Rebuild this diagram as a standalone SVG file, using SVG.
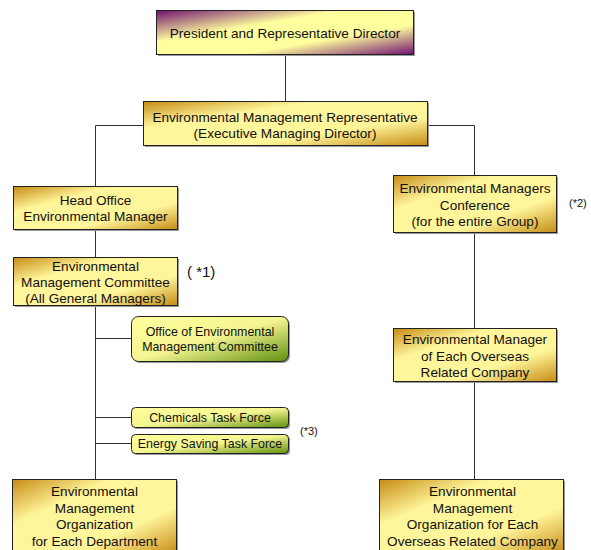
<svg xmlns="http://www.w3.org/2000/svg" width="591" height="550" viewBox="0 0 591 550">
<defs>
<linearGradient id="gold" x1="0" y1="0" x2="1" y2="1">
<stop offset="0" stop-color="#C58B14"/>
<stop offset="0.3" stop-color="#FFF59A"/>
<stop offset="0.68" stop-color="#FFF59A"/>
<stop offset="1" stop-color="#C58B14"/>
</linearGradient>
<linearGradient id="purple" x1="0" y1="0" x2="1" y2="1">
<stop offset="0" stop-color="#701070"/>
<stop offset="0.36" stop-color="#FFFF9E"/>
<stop offset="0.66" stop-color="#FFFF9E"/>
<stop offset="1" stop-color="#701070"/>
</linearGradient>
<linearGradient id="green" x1="0" y1="0" x2="1" y2="1">
<stop offset="0" stop-color="#FFFF9E"/>
<stop offset="0.5" stop-color="#F4F590"/>
<stop offset="1" stop-color="#5E8F0E"/>
</linearGradient>
</defs>
<style>
.box{stroke:#222;stroke-width:1}
.sh{fill:#999}
.t{font-family:"Liberation Sans",Arial,sans-serif;font-size:13.6px;fill:#111;text-anchor:middle;dominant-baseline:central}
.s{font-size:12.4px}
.n{font-family:"Liberation Sans",Arial,sans-serif;fill:#111}
.c{fill:none;stroke:#333;stroke-width:1}
</style>
<g id="connectors">
<path class="c" d="M285.5 54V101"/>
<path class="c" d="M95.5 186V125.5H143M427 125.5H474.5V175"/>
<path class="c" d="M95.5 229V257"/>
<path class="c" d="M95.5 305V479"/>
<path class="c" d="M95.5 338.5H131M95.5 417.5H131M95.5 443.5H131"/>
<path class="c" d="M474.5 232V328"/>
<path class="c" d="M474.5 381V479"/>
</g>
<g id="president">
<rect class="sh" x="158" y="12" width="257" height="44"/>
<rect class="box" x="156.5" y="10.5" width="257" height="44" fill="url(#purple)"/>
<text class="t" x="285" y="33">President and Representative Director</text>
</g>
<g id="representative">
<rect class="sh" x="145" y="103" width="284" height="44"/>
<rect class="box" x="143.5" y="101.5" width="284" height="44" fill="url(#gold)"/>
<text class="t" x="285" y="117">Environmental Management Representative</text>
<text class="t" x="285" y="133.5">(Executive Managing Director)</text>
</g>
<g id="headoffice">
<rect class="sh" x="15" y="188" width="164" height="43"/>
<rect class="box" x="13.5" y="186.5" width="164" height="43" fill="url(#gold)"/>
<text class="t" x="95.5" y="200">Head Office</text>
<text class="t" x="95.5" y="216.5">Environmental Manager</text>
</g>
<g id="committee">
<rect class="sh" x="15" y="259" width="164" height="48"/>
<rect class="box" x="13.5" y="257.5" width="164" height="48" fill="url(#gold)"/>
<text class="t" x="95.5" y="266">Environmental</text>
<text class="t" x="95.5" y="282">Management Committee</text>
<text class="t" x="95.5" y="298">(All General Managers)</text>
<text class="n" x="187" y="277" font-size="15">( *1)</text>
</g>
<g id="office">
<rect class="sh" x="133" y="318" width="157" height="45" rx="7"/>
<rect class="box" x="131.5" y="316.5" width="157" height="45" rx="7" fill="url(#green)"/>
<text class="t s" x="210" y="331.5">Office of Environmental</text>
<text class="t s" x="210" y="346.5">Management Committee</text>
</g>
<g id="chemicals">
<rect class="sh" x="133" y="409" width="157" height="20" rx="4"/>
<rect class="box" x="131.5" y="407.5" width="157" height="20" rx="4" fill="url(#green)"/>
<text class="t s" x="210" y="417.5">Chemicals Task Force</text>
</g>
<g id="energy">
<rect class="sh" x="133" y="436" width="157" height="19" rx="4"/>
<rect class="box" x="131.5" y="434.5" width="157" height="19" rx="4" fill="url(#green)"/>
<text class="t s" x="210" y="444">Energy Saving Task Force</text>
<text class="n" x="300" y="435" font-size="11">(*3)</text>
</g>
<g id="conference">
<rect class="sh" x="395" y="177" width="163" height="57"/>
<rect class="box" x="393.5" y="175.5" width="163" height="57" fill="url(#gold)"/>
<text class="t" x="475" y="188.5">Environmental Managers</text>
<text class="t" x="475" y="205">Conference</text>
<text class="t" x="475" y="221.5">(for the entire Group)</text>
<text class="n" x="569" y="207" font-size="11">(*2)</text>
</g>
<g id="overseasmanager">
<rect class="sh" x="395" y="330" width="163" height="53"/>
<rect class="box" x="393.5" y="328.5" width="163" height="53" fill="url(#gold)"/>
<text class="t" x="475" y="339.5">Environmental Manager</text>
<text class="t" x="475" y="356">of Each Overseas</text>
<text class="t" x="475" y="372.5">Related Company</text>
</g>
<g id="deptorg">
<rect class="sh" x="14" y="481" width="164" height="75"/>
<rect class="box" x="12.5" y="479.5" width="164" height="75" fill="url(#gold)"/>
<text class="t" x="94.5" y="491.5">Environmental</text>
<text class="t" x="94.5" y="508">Management</text>
<text class="t" x="94.5" y="524.5">Organization</text>
<text class="t" x="94.5" y="541">for Each Department</text>
</g>
<g id="overseasorg">
<rect class="sh" x="381" y="481" width="184" height="75"/>
<rect class="box" x="379.5" y="479.5" width="184" height="75" fill="url(#gold)"/>
<text class="t" x="472.5" y="491.5">Environmental</text>
<text class="t" x="472.5" y="508">Management</text>
<text class="t" x="472.5" y="524.5">Organization for Each</text>
<text class="t" x="472.5" y="541">Overseas Related Company</text>
</g>
</svg>
